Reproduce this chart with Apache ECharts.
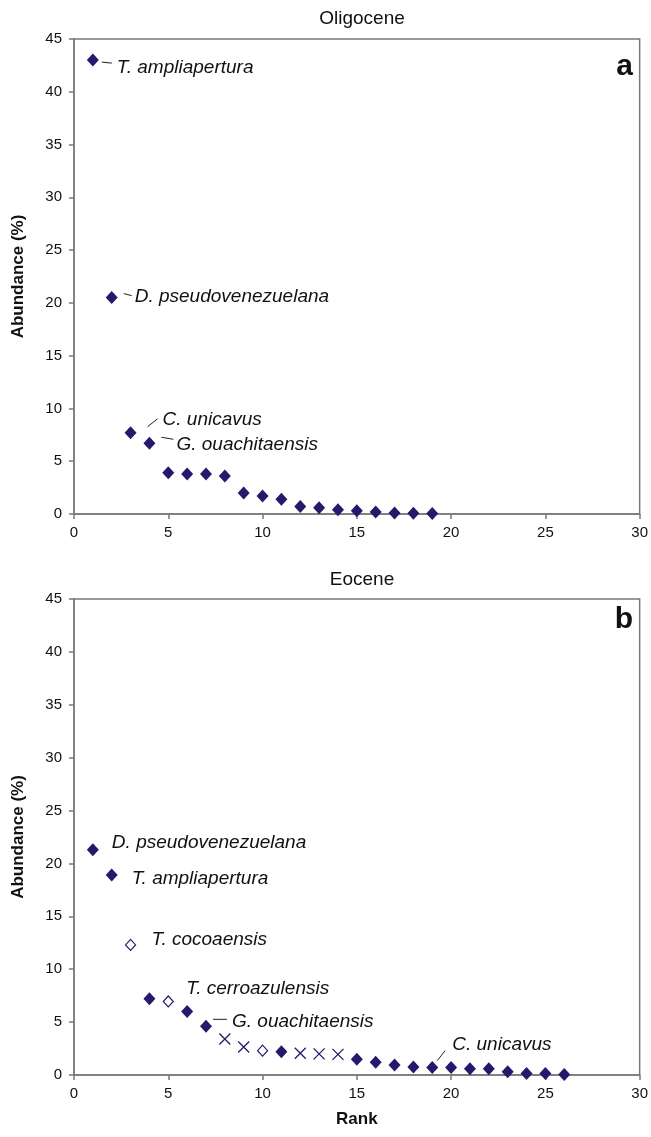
<!DOCTYPE html>
<html lang="en" style="height: 100%">
<head>
  <meta charset="utf-8">
</head>
<body style="height: 100%; margin: 0; background: #fff">
  <div id="container" style="width: 651px; height: 1137px"></div>

  <script type="text/javascript" src="https://cdn.jsdelivr.net/npm/echarts@6/dist/echarts.min.js"></script>
  <script type="text/javascript">
// Oligocene (panel a)
var oligoRank = [1, 2, 3, 4, 5, 6, 7, 8, 9, 10, 11, 12, 13, 14, 15, 16, 17, 18, 19];
var oligoAbund = [43.0, 20.5, 7.7, 6.7, 3.9, 3.8, 3.8, 3.6, 2.0, 1.7, 1.4, 0.7, 0.6, 0.4, 0.3, 0.2, 0.1, 0.08, 0.05];

// Eocene (panel b) - three marker styles
var eoFilledRank = [1, 2, 4, 6, 7, 11, 15, 16, 17, 18, 19, 20, 21, 22, 23, 24, 25, 26];
var eoFilledAbund = [21.3, 18.9, 7.2, 6.0, 4.6, 2.2, 1.5, 1.2, 0.95, 0.75, 0.7, 0.7, 0.6, 0.6, 0.3, 0.15, 0.15, 0.05];
var eoOpenRank = [3, 5, 10];
var eoOpenAbund = [12.3, 6.95, 2.3];
var eoCrossRank = [8, 9, 12, 13, 14];
var eoCrossAbund = [3.4, 2.65, 2.05, 2.0, 1.95];

// species labels (rank they point at)
var oligoLabelNames = ['T. ampliapertura', 'D. pseudovenezuelana', 'C. unicavus', 'G. ouachitaensis'];
var oligoLabelRanks = [1, 2, 3, 4];
var eoLabelNames = ['D. pseudovenezuelana', 'T. ampliapertura', 'T. cocoaensis', 'T. cerroazulensis', 'G. ouachitaensis', 'C. unicavus'];
var eoLabelRanks = [1, 2, 3, 5, 7, 19];

var yTicks = [0, 5, 10, 15, 20, 25, 30, 35, 40, 45];
var xTicks = [0, 5, 10, 15, 20, 25, 30];

// label offsets in px from the marker: [textDx, textDy, leader line or null]
var oligoLabelLayout = [
  [24, 8, [9, 2, 19, 3]],
  [23, -1, [12, -4, 20, -2]],
  [32, -13, [17, -6, 27, -14]],
  [27, 1, [12, -6, 24, -4]]
];
var eoLabelLayout = [
  [19, -7, null],
  [20, 4, null],
  [21, -5, null],
  [18, -13, null],
  [26, -5, [7, -7, 21, -7]],
  [20, -23, [5, -7, 13, -17]]
];

var navy = '#231a6b';
var frame = '#7a7a7a';
var font = '"Liberation Sans", Arial, sans-serif';

function pairs(xs, ys) {
  return xs.map(function (x, i) { return [x, ys[i]]; });
}
function lookup(rank, sets) {
  for (var s = 0; s < sets.length; s++) {
    var i = sets[s][0].indexOf(rank);
    if (i >= 0) return sets[s][1][i];
  }
  return 0;
}

var dom = document.getElementById('container');
var myChart = echarts.init(dom, null, { renderer: 'canvas' });

function xAxisOf(idx, name) {
  return {
    gridIndex: idx, type: 'value', min: 0, max: 30, interval: 5,
    name: name, nameLocation: 'middle', nameGap: 36,
    nameTextStyle: { fontFamily: font, fontWeight: 'bold', fontSize: 17, color: '#111' },
    axisLine: { show: true, onZero: false, lineStyle: { color: frame, width: 1.5 } },
    axisTick: { show: true, inside: false, length: 5, lineStyle: { color: frame, width: 1.5 } },
    axisLabel: { fontFamily: font, fontSize: 15, color: '#111', margin: 11,
      formatter: function (v) { return xTicks.indexOf(v) >= 0 ? String(v) : ''; } },
    splitLine: { show: false }
  };
}
function yAxisOf(idx) {
  return {
    gridIndex: idx, type: 'value', min: 0, max: 45, interval: 5,
    name: 'Abundance (%)', nameLocation: 'middle', nameGap: 47,
    nameTextStyle: { fontFamily: font, fontWeight: 'bold', fontSize: 17, color: '#111' },
    axisLine: { show: true, onZero: false, lineStyle: { color: frame, width: 1.5 } },
    axisTick: { show: true, inside: false, length: 5, lineStyle: { color: frame, width: 1.5 } },
    axisLabel: { fontFamily: font, fontSize: 15, color: '#111', margin: 12,
      formatter: function (v) { return yTicks.indexOf(v) >= 0 ? String(v) : ''; } },
    splitLine: { show: false }
  };
}

var option = {
  backgroundColor: '#fff',
  animation: false,
  title: [
    { text: 'Oligocene', left: 357, top: 4, textAlign: 'center',
      textStyle: { fontFamily: font, fontWeight: 'normal', fontSize: 19, color: '#111' } },
    { text: 'Eocene', left: 357, top: 565, textAlign: 'center',
      textStyle: { fontFamily: font, fontWeight: 'normal', fontSize: 19, color: '#111' } }
  ],
  grid: [
    { left: 74, top: 39, width: 567, height: 475, show: true, borderColor: frame, borderWidth: 1.5, backgroundColor: 'transparent' },
    { left: 74, top: 599, width: 567, height: 476, show: true, borderColor: frame, borderWidth: 1.5, backgroundColor: 'transparent' }
  ],
  xAxis: [xAxisOf(0, ''), xAxisOf(1, 'Rank')],
  yAxis: [yAxisOf(0), yAxisOf(1)],
  series: [
    {
      name: 'Oligocene', type: 'scatter', xAxisIndex: 0, yAxisIndex: 0,
      symbol: 'diamond', symbolSize: [12, 13],
      itemStyle: { color: navy, opacity: 1 },
      data: pairs(oligoRank, oligoAbund)
    },
    {
      name: 'Eocene filled', type: 'scatter', xAxisIndex: 1, yAxisIndex: 1,
      symbol: 'diamond', symbolSize: [12, 13],
      itemStyle: { color: navy, opacity: 1 },
      data: pairs(eoFilledRank, eoFilledAbund)
    },
    {
      name: 'Eocene open', type: 'scatter', xAxisIndex: 1, yAxisIndex: 1,
      symbol: 'diamond', symbolSize: [10, 11],
      itemStyle: { color: '#fff', borderColor: navy, borderWidth: 1.2, opacity: 1 },
      data: pairs(eoOpenRank, eoOpenAbund)
    },
    {
      name: 'Eocene cross', type: 'scatter', xAxisIndex: 1, yAxisIndex: 1,
      symbol: 'path://M0,0L10,10M10,0L0,10', symbolSize: 11,
      itemStyle: { color: 'none', borderColor: navy, borderWidth: 1.3, opacity: 1 },
      data: pairs(eoCrossRank, eoCrossAbund)
    }
  ]
};

myChart.setOption(option);

// species labels and leader lines, anchored on the plotted points
function buildLabels(gridIndex, names, ranks, layout, sets) {
  var els = [];
  names.forEach(function (name, i) {
    var p = myChart.convertToPixel({ gridIndex: gridIndex }, [ranks[i], lookup(ranks[i], sets)]);
    var lay = layout[i];
    els.push({
      type: 'text', z: 10,
      style: { text: name, x: p[0] + lay[0], y: p[1] + lay[1],
        font: 'italic 19px ' + font, fill: '#111', textVerticalAlign: 'middle' }
    });
    if (lay[2]) {
      var l = lay[2];
      els.push({
        type: 'line', z: 10,
        shape: { x1: p[0] + l[0], y1: p[1] + l[1], x2: p[0] + l[2], y2: p[1] + l[3] },
        style: { stroke: '#222', lineWidth: 1 }
      });
    }
  });
  return els;
}

var graphics = []
  .concat(buildLabels(0, oligoLabelNames, oligoLabelRanks, oligoLabelLayout, [[oligoRank, oligoAbund]]))
  .concat(buildLabels(1, eoLabelNames, eoLabelRanks, eoLabelLayout,
    [[eoFilledRank, eoFilledAbund], [eoOpenRank, eoOpenAbund], [eoCrossRank, eoCrossAbund]]));

graphics.push(
  { type: 'text', z: 10, style: { text: 'a', x: 633, y: 82, font: 'bold 30px ' + font, fill: '#111', textAlign: 'right', textVerticalAlign: 'bottom' } },
  { type: 'text', z: 10, style: { text: 'b', x: 633, y: 635, font: 'bold 30px ' + font, fill: '#111', textAlign: 'right', textVerticalAlign: 'bottom' } }
);

myChart.setOption({ graphic: graphics });

window.addEventListener('resize', myChart.resize);
  </script>
</body>
</html>
